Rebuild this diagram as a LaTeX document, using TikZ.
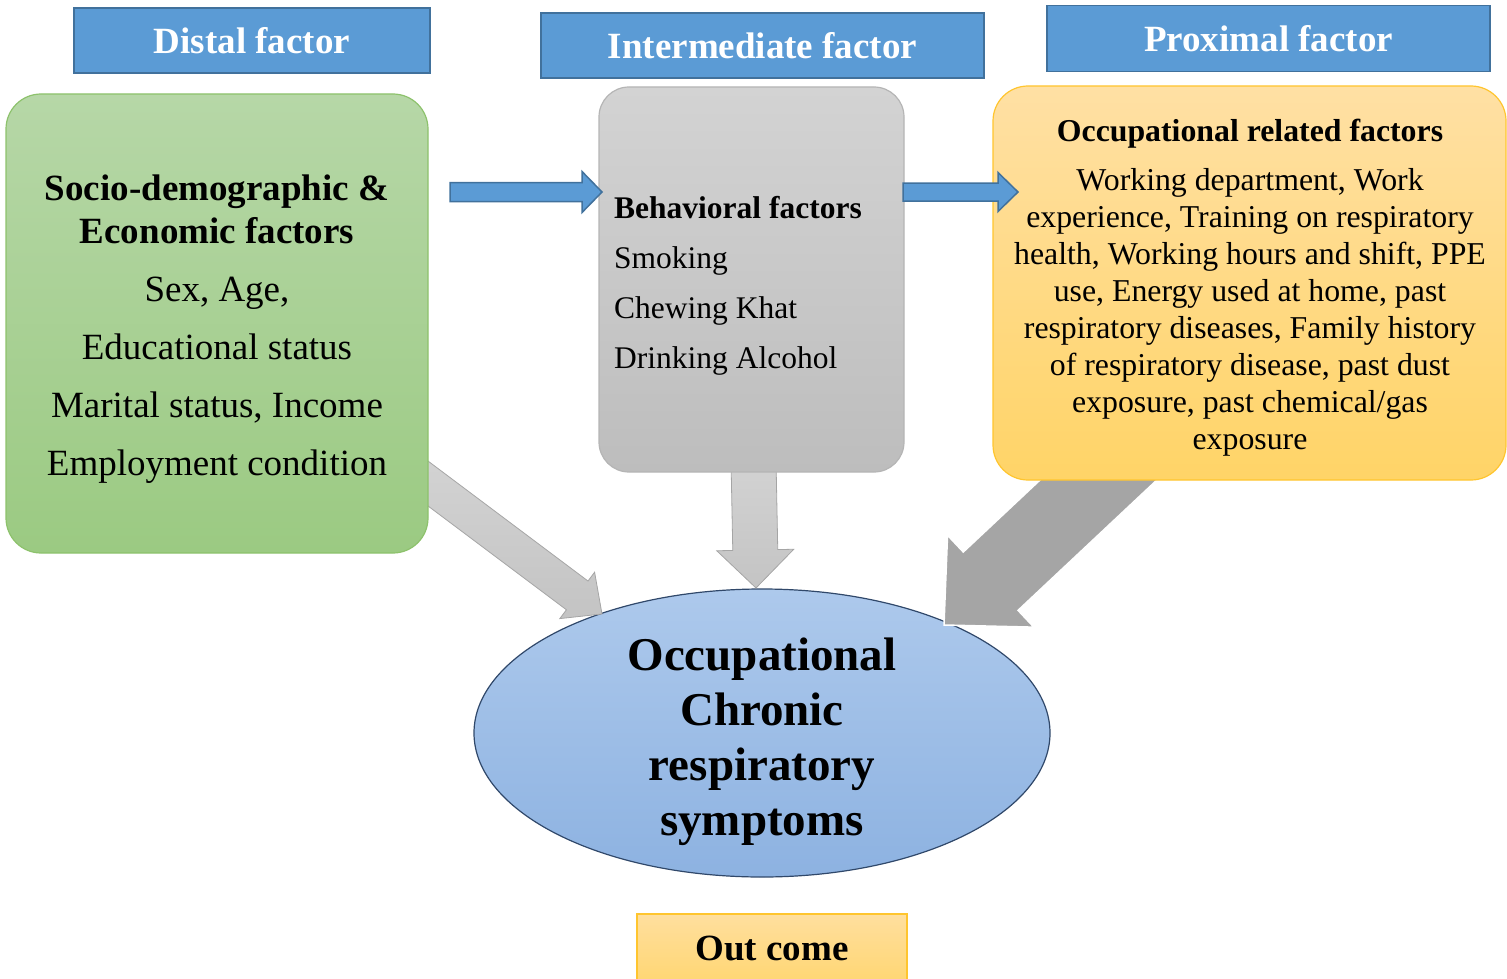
\documentclass[tikz,border=0pt]{standalone}
\usepackage{fontspec}
\setmainfont{Liberation Serif}
\usetikzlibrary{calc,shapes.geometric}

\definecolor{hdrblue}{HTML}{5B9BD5}
\definecolor{hdredge}{HTML}{41719C}
\definecolor{greentop}{HTML}{B6D7A7}
\definecolor{greenbot}{HTML}{9BCA82}
\definecolor{greenedge}{HTML}{8DC26C}
\definecolor{graytop}{HTML}{D3D3D3}
\definecolor{graybot}{HTML}{BDBDBD}
\definecolor{grayedge}{HTML}{B5B5B5}
\definecolor{orangetop}{HTML}{FFE0A4}
\definecolor{orangebot}{HTML}{FFD467}
\definecolor{orangeedge}{HTML}{FFC52E}
\definecolor{bluetop}{HTML}{ADC9EC}
\definecolor{bluebot}{HTML}{8DB2E1}
\definecolor{blueedge}{HTML}{30486A}
\definecolor{arrowgray}{HTML}{A5A5A5}

% fat arrow: [style]{from}{to}{half shaft}{half head}{head length}
\newcommand{\fatarrow}[6][]{%
  \coordinate (fa-h) at ($(#3)!#6!(#2)$);
  \draw[#1] ($(#2)!#4!90:(#3)$) -- ($(fa-h)!#4!90:(#3)$) -- ($(fa-h)!#5!90:(#3)$) -- (#3)
    -- ($(fa-h)!#5!-90:(#3)$) -- ($(fa-h)!#4!-90:(#3)$) -- ($(#2)!#4!-90:(#3)$) -- cycle;}

\begin{document}
\begin{tikzpicture}[x=1pt,y=-1pt,
  header/.style={draw=hdredge, line width=1.5pt, fill=hdrblue, text=white,
    font=\fontsize{37}{44}\selectfont\bfseries, inner sep=0},
  factorbox/.style={rounded corners=35pt, line width=1.2pt, inner sep=0},
  blockarrow/.style={draw=arrowgray, line width=0.8pt, top color=graytop, bottom color=graybot!90!white},
  bluearrow/.style={draw=hdredge, line width=1.5pt, fill=hdrblue}]

  \useasboundingbox (0,0) rectangle (1507,979);

  % headers
  \node[header, minimum width=356, minimum height=65] (distal) at (252,40.5) {Distal factor};
  \node[header, minimum width=443, minimum height=65] (inter) at (762.5,45.5) {Intermediate factor};
  \node[header, minimum width=443, minimum height=66] (prox) at (1268.5,38.5) {Proximal factor};

  % outcome ellipse
  \node[ellipse, draw=blueedge, line width=1.2pt, top color=bluetop, bottom color=bluebot,
    minimum width=576, minimum height=288, inner sep=0] (occ) at (762,733) {};
  \node[font=\fontsize{47}{55}\selectfont\bfseries, align=center] (occ-txt) at (762,742)
    {Occupational\\Chronic\\respiratory\\symptoms};

  % arrows towards the outcome
  \coordinate (socio-out) at (410,470);
  \coordinate (occ-left)  at (602,614);
  \coordinate (beh-out)   at (753.5,460);
  \coordinate (occ-top)   at (756,588);
  \coordinate (prox-out)  at (1140,441);
  \coordinate (occ-right) at (944,625);
  \fatarrow[blockarrow]{socio-out}{occ-left}{18pt}{29pt}{31pt}
  \fatarrow[blockarrow]{beh-out}{occ-top}{22.5pt}{38.5pt}{38pt}
  \fatarrow[draw=white, line width=1.5pt, fill=arrowgray]{prox-out}{occ-right}{40pt}{63pt}{64pt}

  % factor boxes
  \node[factorbox, draw=greenedge, top color=greentop, bottom color=greenbot,
    minimum width=422, minimum height=459] (socio) at (217,323.5) {};
  \node[font=\fontsize{37}{43}\selectfont, align=center] (socio-txt) at (217,329)
    {\textbf{Socio-demographic \&}\\ \textbf{Economic factors}\\[15pt]
     Sex, Age,\\[15pt] Educational status\\[15pt] Marital status, Income\\[15pt] Employment condition};

  \node[factorbox, rounded corners=30pt, draw=grayedge, top color=graytop, bottom color=graybot,
    minimum width=305, minimum height=385] (beh) at (751.5,279.5) {};
  \node[font=\fontsize{31.5}{50}\selectfont, align=left, anchor=west, inner sep=0] (beh-txt) at (614,286)
    {\textbf{Behavioral factors}\\ Smoking\\ Chewing Khat\\ Drinking Alcohol};

  \node[factorbox, draw=orangeedge, top color=orangetop, bottom color=orangebot,
    minimum width=513, minimum height=394] (occfac) at (1249.5,283) {};
  \node[font=\fontsize{31.8}{37}\selectfont, align=center] (occfac-txt) at (1250,288)
    {\textbf{Occupational related factors}\\[12pt]
     Working department, Work\\ experience, Training on respiratory\\
     health, Working hours and shift, PPE\\ use, Energy used at home, past\\
     respiratory diseases, Family history\\ of respiratory disease, past dust\\
     exposure, past chemical/gas\\ exposure};

  % arrows between factors
  \coordinate (socio-east) at (450,192);
  \coordinate (beh-in)     at (602,192);
  \coordinate (beh-east)   at (903,192);
  \coordinate (occfac-in)  at (1018,192);
  \fatarrow[bluearrow]{socio-east}{beh-in}{9.5pt}{20.5pt}{20pt}
  \fatarrow[bluearrow]{beh-east}{occfac-in}{9pt}{19.5pt}{20pt}

  % outcome label
  \node[draw=orangeedge, line width=1.2pt, top color=orangetop!90!orangebot, bottom color=orangebot!80!orangetop,
    minimum width=270, minimum height=68, inner sep=0, font=\fontsize{37}{44}\selectfont\bfseries]
    (outcome) at (772,948) {Out come};
\end{tikzpicture}
\end{document}
